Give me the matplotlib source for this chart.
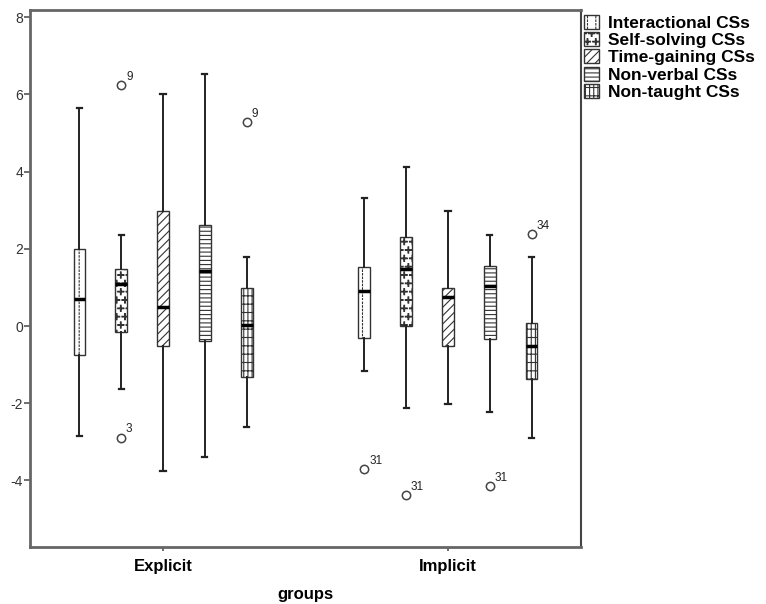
import numpy as np
import matplotlib
matplotlib.use("Agg")
import matplotlib.pyplot as plt
import matplotlib.hatch as mhatch
from matplotlib.path import Path
from matplotlib.patches import Patch

# ---------------- custom hatch patterns ----------------
class Pluses(mhatch.Shapes):
    """'*' -> small plus signs (replaces stars)."""
    size = 0.36
    filled = True

    def __init__(self, hatch, density):
        self.num_rows = hatch.count('*') * density
        d = 0.13
        self.shape_vertices = np.array([[-1, -d], [1, -d], [-1, d], [1, d],
                                        [-d, -1], [-d, 1], [d, -1], [d, 1]], float)
        self.shape_codes = np.array([Path.MOVETO, Path.LINETO] * 4, dtype=Path.code_type)
        super().__init__(hatch, density)


class VDots(mhatch.HatchPatternBase):
    """'o' -> vertical dotted lines (replaces small circles)."""
    def __init__(self, hatch, density):
        self.ncols = hatch.count('o') * density
        self.nseg = 28
        self.num_lines = self.ncols * self.nseg
        self.num_vertices = self.num_lines * 2

    def set_vertices_and_codes(self, vertices, codes):
        xs = np.repeat(np.linspace(0, 1, self.ncols, endpoint=False) + 0.5 / self.ncols, self.nseg)
        y0 = np.tile(np.linspace(0, 1, self.nseg, endpoint=False), self.ncols)
        vertices[0::2, 0] = xs
        vertices[0::2, 1] = y0
        vertices[1::2, 0] = xs
        vertices[1::2, 1] = y0 + 0.4 / self.nseg
        codes[0::2] = Path.MOVETO
        codes[1::2] = Path.LINETO


mhatch._hatch_types[mhatch._hatch_types.index(mhatch.Stars)] = Pluses
mhatch._hatch_types[mhatch._hatch_types.index(mhatch.SmallCircles)] = VDots

# ---------------- data ----------------
groups = ["Explicit", "Implicit"]
series = ["Interactional CSs", "Self-solving CSs", "Time-gaining CSs",
          "Non-verbal CSs", "Non-taught CSs"]

# [Explicit, Implicit] for each series
whislo = {
    "Interactional CSs": [-2.84, -1.17],
    "Self-solving CSs": [-1.64, -2.13],
    "Time-gaining CSs": [-3.77, -2.02],
    "Non-verbal CSs": [-3.39, -2.23],
    "Non-taught CSs": [-2.62, -2.91],
}
q1 = {
    "Interactional CSs": [-0.76, -0.31],
    "Self-solving CSs": [-0.15, -0.01],
    "Time-gaining CSs": [-0.51, -0.53],
    "Non-verbal CSs": [-0.39, -0.33],
    "Non-taught CSs": [-1.31, -1.37],
}
med = {
    "Interactional CSs": [0.70, 0.91],
    "Self-solving CSs": [1.10, 1.49],
    "Time-gaining CSs": [0.49, 0.74],
    "Non-verbal CSs": [1.43, 1.04],
    "Non-taught CSs": [0.03, -0.51],
}
q3 = {
    "Interactional CSs": [1.99, 1.52],
    "Self-solving CSs": [1.49, 2.30],
    "Time-gaining CSs": [2.99, 0.99],
    "Non-verbal CSs": [2.63, 1.55],
    "Non-taught CSs": [0.99, 0.09],
}
whishi = {
    "Interactional CSs": [5.66, 3.32],
    "Self-solving CSs": [2.37, 4.13],
    "Time-gaining CSs": [6.02, 2.99],
    "Non-verbal CSs": [6.52, 2.37],
    "Non-taught CSs": [1.79, 1.78],
}
outliers = {
    "Interactional CSs": [[], [-3.71]],
    "Self-solving CSs": [[6.24, -2.89], [-4.38]],
    "Time-gaining CSs": [[], []],
    "Non-verbal CSs": [[], [-4.14]],
    "Non-taught CSs": [[5.29], [2.38]],
}
outlier_labels = {
    "Interactional CSs": [[], ["31"]],
    "Self-solving CSs": [["9", "3"], ["31"]],
    "Time-gaining CSs": [[], []],
    "Non-verbal CSs": [[], ["31"]],
    "Non-taught CSs": [["9"], ["34"]],
}
hatches = ["oo", "**", "////", "----", "||||--"]
yticks = [-4, -2, 0, 2, 4, 6, 8]

# ---------------- plot ----------------
plt.rcParams['font.family'] = ['Liberation Sans', 'DejaVu Sans']
plt.rcParams['hatch.linewidth'] = 0.8
plt.rcParams['hatch.color'] = 'black'

fig = plt.figure(figsize=(7.66, 6.04), dpi=100)
ax = fig.add_axes([30 / 766, 1 - 546.7 / 604, (581 - 30) / 766, (546.7 - 10) / 604])

offsets = np.array([-2, -1, 0, 1, 2]) * 0.147
width = 0.04

for si, s in enumerate(series):
    stats = []
    for gi, g in enumerate(groups):
        stats.append(dict(med=med[s][gi], q1=q1[s][gi], q3=q3[s][gi],
                          whislo=whislo[s][gi], whishi=whishi[s][gi],
                          fliers=outliers[s][gi]))
    pos = np.arange(1, len(groups) + 1) + offsets[si]
    bp = ax.bxp(stats, positions=pos, widths=width, patch_artist=True,
                showfliers=True,
                boxprops=dict(facecolor='white', edgecolor='#333333', linewidth=1.0, hatch=hatches[si]),
                medianprops=dict(color='black', linewidth=2.5),
                whiskerprops=dict(color='#222222', linewidth=1.4),
                capprops=dict(color='#222222', linewidth=1.6),
                capwidths=0.018,
                flierprops=dict(marker='o', markersize=6, markerfacecolor='white',
                                markeredgecolor='#444444', markeredgewidth=1.1))
    for gi in range(len(groups)):
        for v, lab in zip(outliers[s][gi], outlier_labels[s][gi]):
            ax.annotate(lab, (pos[gi], v), xytext=(3.5, 1.5), textcoords='offset points',
                        fontsize=8.5, ha='left', va='bottom', color='#222222')

ax.set_xlim(0.533, 2.467)
ax.set_ylim(-5.72, 8.19)
ax.set_xticks([1, 2])
ax.set_xticklabels(groups, fontsize=12, fontweight='bold')
ax.set_yticks(yticks)
ax.set_yticklabels([str(t) for t in yticks], fontsize=10, color='#333333')
ax.set_xlabel("groups", fontsize=12, fontweight='bold')
ax.xaxis.label.set_va('baseline')
ax.xaxis.set_label_coords(0.5, (546.7 - 599) / 536.7)
ax.tick_params(axis='y', length=4, width=1.2, color='#555555', pad=1)
ax.tick_params(axis='x', length=3, width=1.2, color='#555555', pad=6)
for side in ['left', 'bottom', 'top']:
    ax.spines[side].set_color('#666666')
    ax.spines[side].set_linewidth(2)
ax.spines['right'].set_color('#444444')
ax.spines['right'].set_linewidth(1.5)

handles = [Patch(facecolor='white', edgecolor='#333333', hatch=h, label=s)
           for s, h in zip(series, hatches)]
fig.legend(handles=handles, loc='upper left', bbox_to_anchor=(582 / 766, 1 - 13 / 604),
           frameon=False, handlelength=0.9, handleheight=0.85,
           handletextpad=0.5, labelspacing=0.08, borderaxespad=0, borderpad=0.1,
           prop=dict(weight='bold', size=12.5))

fig.savefig("out.png", dpi=100)
